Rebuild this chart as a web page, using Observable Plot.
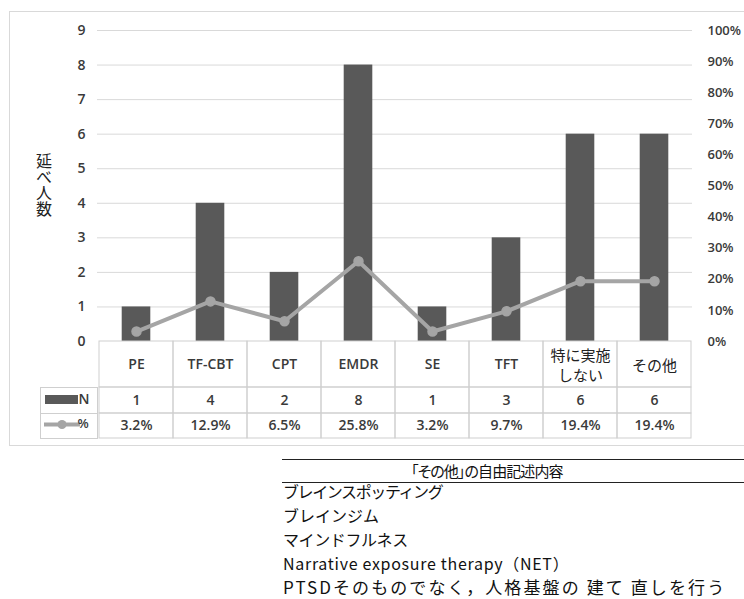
<!DOCTYPE html>
<html><head><meta charset="utf-8">
<script src="https://cdn.jsdelivr.net/npm/d3@7"></script>
<script src="https://cdn.jsdelivr.net/npm/@observablehq/plot@0.6"></script>
<style>
html,body{margin:0;padding:0;background:#fff;}
body{width:744px;height:599px;overflow:hidden;position:relative;font-family:"Noto Sans CJK JP",sans-serif;}
#chart{position:absolute;left:0;top:0;}
#notes{position:absolute;left:282px;top:459px;width:480px;color:#111;font-size:16px;}
#notes .title{height:22px;line-height:22px;border-top:1px solid #222;border-bottom:1px solid #222;padding-left:129px;font-size:15px;font-feature-settings:"palt";letter-spacing:-0.9px;}
#notes .row{line-height:24px;height:24px;padding-left:1px;white-space:nowrap;}
#notes .rows{margin-top:-4px;}
</style></head><body>
<div id="chart"></div>
<div id="notes"></div>
<script>
const categories = ["PE","TF-CBT","CPT","EMDR","SE","TFT","特に実施\nしない","その他"];
const counts = [1,4,2,8,1,3,6,6];
const percents = [3.2,12.9,6.5,25.8,3.2,9.7,19.4,19.4];
const leftTicks = [0,1,2,3,4,5,6,7,8,9];
const rightTicks = [0,10,20,30,40,50,60,70,80,90,100];
const yLabel = "延べ人数";
const seriesNames = ["N","%"];
const notesTitle = "「その他」の自由記述内容";
const notes = ["ブレインスポッティング","ブレインジム","マインドフルネス","Narrative exposure therapy（NET）","PTSDそのものでなく，人格基盤の 建て 直しを行う"];

// layout (not data)
const rowSpacing = [-1.4, 0, -0.4, 0.7, 2.1];
const rowSize = [16, 16, 16, 16, 17];

const W=744,H=450,mT=30,mB=109,mL=97,mR=52;
const yMax = 9;
const k=(H-mT-mB)/yMax;
const rowEdges=[0,46,72,97];
const toY = px => -px/k;
const data = categories.map((c,i)=>({cat:c,n:counts[i],p:percents[i],py:percents[i]/100*yMax,
  nl:String(counts[i]), pl:percents[i].toFixed(1)+"%"}));
const isLatin = d => /^[A-Z\-]+$/.test(d.cat);
const font='"Open Sans","Noto Sans CJK JP",sans-serif';
const txt="#3a3a3a";
const gridC="#d9d9d9", tableC="#cfcfcf", barC="#595959", lineC="#a5a5a5";
const fw = 600;

const plot = Plot.plot({
  width:W,height:H,marginTop:mT,marginBottom:mB,marginLeft:mL,marginRight:mR,
  style:{fontFamily:font,fontSize:"14px",color:txt,background:"transparent",overflow:"visible"},
  x:{domain:categories,padding:0,axis:null},
  y:{domain:[0,yMax],axis:null},
  marks:[
    Plot.gridY(leftTicks.filter(d=>d>0),{stroke:gridC,strokeOpacity:1}),
    Plot.axisY(leftTicks,{anchor:"left",tickSize:0,tickPadding:12,fontSize:14,fill:txt,fontWeight:fw}),
    Plot.axisY(rightTicks.map(t=>t/100*yMax),{anchor:"right",tickSize:0,tickPadding:15,textAnchor:"start",
      tickFormat:d=>Math.round(d/yMax*100)+"%",fontSize:13,fill:txt,fontWeight:fw}),
    Plot.barY(data,{x:"cat",y:"n",fill:barC,insetLeft:22.7,insetRight:22.7}),
    Plot.barY(data,{x:"cat",y1:toY(rowEdges[0]),y2:toY(rowEdges[1]),fill:"none",stroke:tableC}),
    Plot.barY(data,{x:"cat",y1:toY(rowEdges[1]),y2:toY(rowEdges[2]),fill:"none",stroke:tableC}),
    Plot.barY(data,{x:"cat",y1:toY(rowEdges[2]),y2:toY(rowEdges[3]),fill:"none",stroke:tableC}),
    Plot.line(data,{x:"cat",y:"py",stroke:lineC,strokeWidth:4}),
    Plot.dot(data,{x:"cat",y:"py",r:4.5,fill:lineC,stroke:lineC}),
    Plot.text(data,{filter:isLatin,x:"cat",y:0,text:"cat",dy:23,fill:txt,fontWeight:fw,fontSize:14}),
    Plot.text(data,{filter:d=>!isLatin(d),x:"cat",y:0,text:"cat",dy:23,fill:"#222",fontSize:15,lineHeight:1.35}),
    Plot.text(data,{x:"cat",y:0,text:"nl",dy:59,fill:txt,fontSize:14,fontWeight:fw}),
    Plot.text(data,{x:"cat",y:0,text:"pl",dy:84,fill:txt,fontSize:14,fontWeight:fw})
  ]
});
document.getElementById("chart").appendChild(plot);

// decorations: chart frame, vertical axis title and legend column of data table
const svg=d3.select(plot);
const y0=H-mB;
svg.insert("rect",":first-child").attr("x",9.5).attr("y",11.5).attr("width",760).attr("height",434)
  .attr("fill","none").attr("stroke",gridC);
svg.append("text").attr("x",44).attr("y",(mT+y0)/2-1).attr("text-anchor","middle")
  .attr("style","writing-mode:vertical-rl;glyph-orientation-vertical:0")
  .attr("font-family",'"Noto Sans CJK JP"').attr("font-size",16).attr("fill","#222").text(yLabel);
const lx0=40, lx1=mL;
[[rowEdges[1],rowEdges[2]],[rowEdges[2],rowEdges[3]]].forEach(([a,b])=>{
  svg.append("rect").attr("x",lx0+0.5).attr("y",y0+a+0.5).attr("width",lx1-lx0).attr("height",b-a)
    .attr("fill","none").attr("stroke",tableC);
});
const r1=y0+(rowEdges[1]+rowEdges[2])/2, r2=y0+(rowEdges[2]+rowEdges[3])/2;
svg.append("rect").attr("x",45).attr("y",r1-5).attr("width",33).attr("height",9).attr("fill",barC);
svg.append("line").attr("x1",44).attr("x2",80).attr("y1",r2-1).attr("y2",r2-1).attr("stroke",lineC).attr("stroke-width",4);
svg.append("circle").attr("cx",62).attr("cy",r2-1).attr("r",4.5).attr("fill",lineC);
seriesNames.forEach((s,i)=>{
  svg.append("text").attr("x",i?83:84).attr("y",i?r2-2:r1-1).attr("dy","0.35em").attr("font-size",i?13:14)
    .attr("font-weight",fw).attr("font-family",font).attr("fill",txt).text(s);
});

// notes table
const notesEl=document.getElementById("notes");
const t=document.createElement("div");t.className="title";t.textContent=notesTitle;notesEl.appendChild(t);
const rows=document.createElement("div");rows.className="rows";
notes.forEach((n,i)=>{const r=document.createElement("div");r.className="row";r.textContent=n;
  r.style.letterSpacing=rowSpacing[i]+"px";r.style.fontSize=rowSize[i]+"px";rows.appendChild(r);});
notesEl.appendChild(rows);
</script>
</body></html>
